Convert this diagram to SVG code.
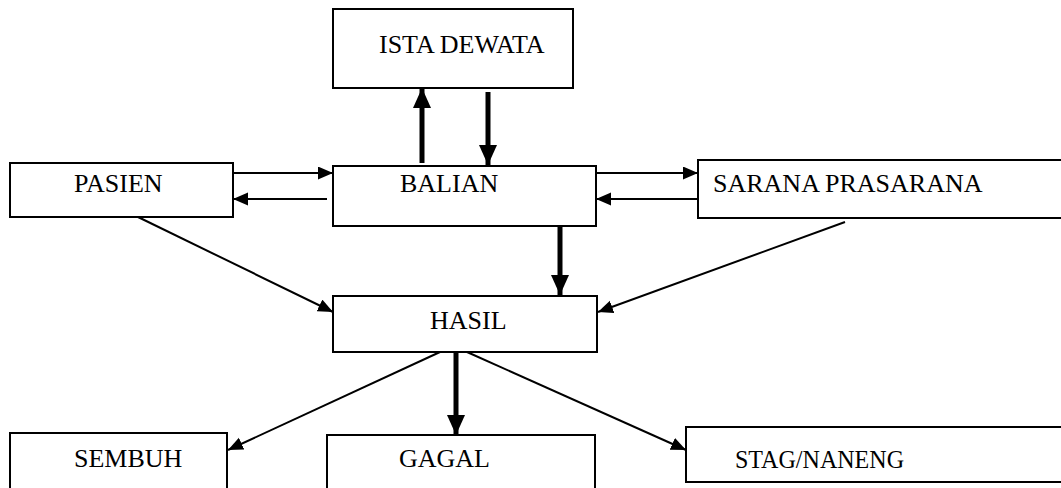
<svg xmlns="http://www.w3.org/2000/svg" width="1061" height="488" viewBox="0 0 1061 488">
  <style>
    .box { fill: #ffffff; stroke: #000000; stroke-width: 2; }
    .lbl { font-family: "Liberation Serif", "Times New Roman", serif; font-size: 26px; fill: #000000; }
    .thin { stroke: #000000; stroke-width: 2; fill: none; marker-end: url(#headThin); }
    .thick { stroke: #000000; stroke-width: 5; fill: none; marker-end: url(#headThick); }
  </style>
  <defs>
    <marker id="headThin" markerUnits="userSpaceOnUse" markerWidth="16" markerHeight="14" refX="15" refY="6.5" orient="auto">
      <path d="M0,0 L15,6.5 L0,13 z" fill="#000000"/>
    </marker>
    <marker id="headThick" markerUnits="userSpaceOnUse" markerWidth="21" markerHeight="19" refX="20" refY="9" orient="auto">
      <path d="M0,0 L20,9 L0,18 z" fill="#000000"/>
    </marker>
  </defs>
  <rect width="1061" height="488" fill="#ffffff"/>

  <g id="ista-dewata">
    <rect class="box" x="333" y="9" width="240" height="79"/>
    <text class="lbl" x="379" y="53">ISTA DEWATA</text>
  </g>
  <g id="pasien">
    <rect class="box" x="10" y="163" width="223" height="54"/>
    <text class="lbl" x="74" y="192">PASIEN</text>
  </g>
  <g id="balian">
    <rect class="box" x="333" y="166" width="263" height="60"/>
    <text class="lbl" x="400" y="192">BALIAN</text>
  </g>
  <g id="sarana-prasarana">
    <rect class="box" x="698" y="160" width="380" height="58"/>
    <text class="lbl" x="713" y="192">SARANA PRASARANA</text>
  </g>
  <g id="hasil">
    <rect class="box" x="333" y="296" width="264" height="56"/>
    <text class="lbl" x="430" y="329">HASIL</text>
  </g>
  <g id="sembuh">
    <rect class="box" x="10" y="433" width="217" height="70"/>
    <text class="lbl" x="74" y="467">SEMBUH</text>
  </g>
  <g id="gagal">
    <rect class="box" x="327" y="435" width="268" height="70"/>
    <text class="lbl" x="399" y="467">GAGAL</text>
  </g>
  <g id="stag-naneng">
    <rect class="box" x="686" y="427" width="390" height="55"/>
    <text class="lbl" x="735" y="468" textLength="169" lengthAdjust="spacingAndGlyphs">STAG/NANENG</text>
  </g>

  <g id="connectors">
    <line class="thick" x1="422" y1="163" x2="422" y2="88"/>
    <line class="thick" x1="488" y1="92" x2="488" y2="165"/>
    <line class="thick" x1="560" y1="226" x2="560" y2="295"/>
    <line class="thick" x1="456" y1="352" x2="456" y2="435"/>
    <line class="thin" x1="233" y1="173" x2="333" y2="173"/>
    <line class="thin" x1="327" y1="199" x2="233" y2="199"/>
    <line class="thin" x1="596" y1="173" x2="698" y2="173"/>
    <line class="thin" x1="698" y1="199" x2="596" y2="199"/>
    <line class="thin" x1="138" y1="217" x2="333" y2="312"/>
    <line class="thin" x1="845" y1="222" x2="598" y2="312"/>
    <line class="thin" x1="440" y1="352" x2="228" y2="450"/>
    <line class="thin" x1="467" y1="352" x2="686" y2="450"/>
  </g>
</svg>
